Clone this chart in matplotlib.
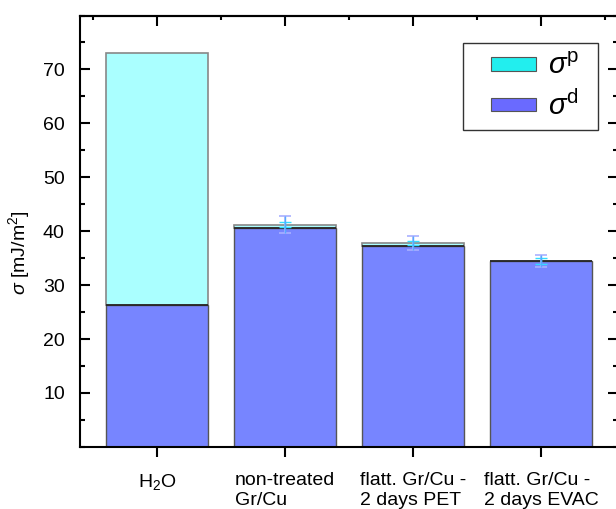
import numpy as np
import matplotlib.pyplot as plt
from matplotlib.ticker import MultipleLocator
from matplotlib.patches import Patch, Rectangle

plt.rcParams['font.family'] = ['Liberation Sans', 'DejaVu Sans']
plt.rcParams['mathtext.fontset'] = 'custom'
plt.rcParams['mathtext.rm'] = 'Liberation Sans'
plt.rcParams['mathtext.it'] = 'Liberation Sans:italic'

# data
samples = ['H$_2$O', 'non-treated\nGr/Cu', 'flatt. Gr/Cu -\n2 days PET', 'flatt. Gr/Cu -\n2 days EVAC']
sigma_d = [26.4, 40.6, 37.3, 34.4]
sigma_p = [46.6, 0.6, 0.5, 0.1]
err_wide = [0.0, 1.6, 1.3, 1.05]
err_narrow = [0.0, 0.5, 0.4, 0.5]

col_d = '#7785ff'
col_p = '#aaffff'

fig, ax = plt.subplots(figsize=(6.16, 5.09), dpi=100)
fig.subplots_adjust(left=0.13, right=1.003, top=0.9695, bottom=0.122)

x = np.arange(len(samples))
tot = np.array(sigma_d) + np.array(sigma_p)

ax.bar(x, sigma_p, width=0.8, bottom=sigma_d, color=col_p, edgecolor='#888888', linewidth=1.2)
ax.bar(x, sigma_d, width=0.8, color=col_d, edgecolor='#555555', linewidth=1.0)
# dark line on top of the dispersive part
ax.hlines(sigma_d, x - 0.4, x + 0.4, colors='#222222', linewidth=1.2)

ax.errorbar(x[1:], tot[1:], yerr=err_wide[1:], fmt='none', ecolor='#a9b0ff',
            elinewidth=1.2, capsize=4, capthick=1.2)
ax.errorbar(x[1:], tot[1:], yerr=err_narrow[1:], fmt='none', ecolor='#33ddff',
            elinewidth=1.0, capsize=4, capthick=1.0)
ax.vlines(x[1:], tot[1:] - np.array(err_wide[1:]), tot[1:] + np.array(err_wide[1:]),
          colors='#55aaff', linewidth=1.0)

ax.set_xlim(-0.6, 3.6)
ax.set_ylim(0, 80)
ax.set_xticks(x)
ax.set_xticklabels(samples, fontsize=14, ha='center', multialignment='left',
                   linespacing=1.2)
ax.tick_params(axis='x', which='major', direction='out', length=7, width=1.5,
               labelsize=14, pad=11, top=False)

top = ax.secondary_xaxis('top')
top.set_xticks(x)
top.xaxis.set_minor_locator(MultipleLocator(0.5))
top.tick_params(which='major', direction='in', length=7, width=1.5, labeltop=False)
top.tick_params(which='minor', direction='in', length=3, width=1.5)
top.spines['top'].set_linewidth(1.5)

ax.set_yticks([10, 20, 30, 40, 50, 60, 70])
ax.yaxis.set_minor_locator(MultipleLocator(5))
ax.tick_params(axis='y', which='major', direction='in', length=7, width=1.5,
               labelsize=14, right=True, pad=11)
ax.tick_params(axis='y', which='minor', direction='in', length=3.5, width=1.5, right=True)
for s in ax.spines.values():
    s.set_linewidth(1.5)

ax.set_ylabel(r'$\sigma$ [mJ/m$^2$]', fontsize=14)
ax.yaxis.set_label_coords(-0.09, 0.45)

# legend frame drawn separately so the padding matches the reference
ax.add_patch(Rectangle((0.712, 0.735), 0.251, 0.201, transform=ax.transAxes,
                       facecolor='white', edgecolor='#333333', linewidth=1.0, zorder=4))
handles = [Patch(facecolor='#22eeee', edgecolor='#555555', linewidth=0.8),
           Patch(facecolor='#6a6aff', edgecolor='#555555', linewidth=0.8)]
leg = ax.legend(handles, [r'$\sigma^{\rm p}$', r'$\sigma^{\rm d}$'], loc='upper left',
                bbox_to_anchor=(0.764, 0.915), fontsize=21, frameon=False,
                handlelength=1.55, handleheight=0.35, borderpad=0, labelspacing=0.35,
                handletextpad=0.4, borderaxespad=0)
leg.set_zorder(5)

fig.savefig('out.png', dpi=100)
